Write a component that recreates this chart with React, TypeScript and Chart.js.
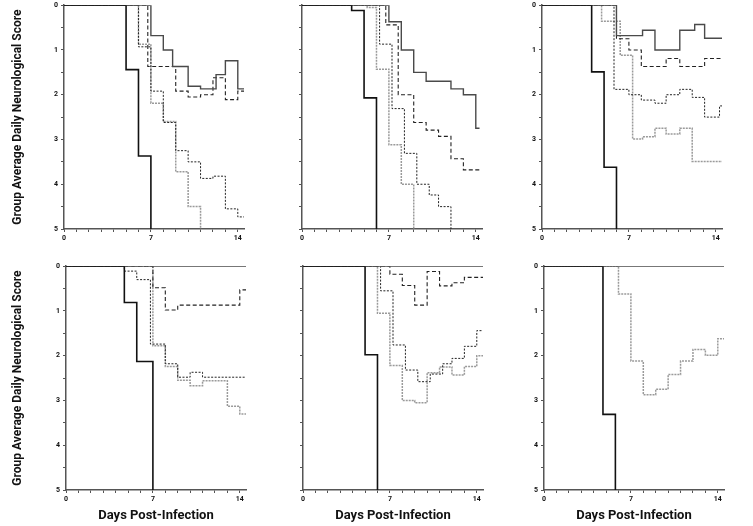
import React, { useEffect, useRef } from "react";
import { Chart, registerables } from "chart.js";
Chart.register(...registerables);

type Pt = [number, number];

// ---- axis ticks / labels ----
const dayTicks = [0, 1, 2, 3, 4, 5, 6, 7, 8, 9, 10, 11, 12, 13, 14];
const dayLabels = [0, 7, 14];
const scoreTicks = [0, 0.5, 1, 1.5, 2, 2.5, 3, 3.5, 4, 4.5, 5];
const scoreLabels = [0, 1, 2, 3, 4, 5];
const yTitleText = "Group Average Daily Neurological Score";
const xTitleText = "Days Post-Infection";

// ---- Panel r1c1 ----
const r1c1Black: Pt[] = [[0, 0], [5, 1.44], [6, 3.37], [7, 5]];
const r1c1Solid: Pt[] = [[0, 0], [7, 0.68], [8, 1.0], [8.75, 1.37], [10, 1.81], [11, 1.87], [12.25, 1.55], [13, 1.24], [14, 1.87], [14.5, 1.87]];
const r1c1Dashed: Pt[] = [[0, 0], [6.75, 1.37], [9, 1.92], [10, 2.05], [11, 2.0], [12, 1.62], [13, 2.11], [14, 1.92], [14.5, 1.92]];
const r1c1Dotted: Pt[] = [[0, 0], [6, 0.93], [7, 1.92], [8, 2.62], [9, 3.25], [10, 3.5], [11, 3.87], [12, 3.82], [13, 4.55], [14, 4.73], [14.5, 4.73]];
const r1c1Gray: Pt[] = [[0, 0], [6, 0.87], [7, 2.19], [8, 2.6], [9, 3.72], [10, 4.5], [11, 5]];

// ---- Panel r1c2 ----
const r1c2Black: Pt[] = [[0, 0], [4, 0.12], [5, 2.07], [6, 5]];
const r1c2Solid: Pt[] = [[0, 0], [7, 0.37], [8, 1.0], [9, 1.5], [10, 1.7], [12, 1.87], [13, 2.0], [14, 2.75], [14.3, 2.75]];
const r1c2Dashed: Pt[] = [[0, 0], [6.75, 0.44], [7.75, 2.0], [9, 2.62], [10, 2.79], [11, 2.93], [12, 3.43], [13, 3.68], [14.3, 3.68]];
const r1c2Dotted: Pt[] = [[0, 0], [6.25, 0.87], [7.25, 2.31], [8.25, 3.31], [9.25, 4.0], [10.25, 4.24], [11, 4.5], [12, 5]];
const r1c2Gray: Pt[] = [[0, 0], [5.25, 0.05], [6, 1.43], [7, 3.12], [8, 4.0], [9, 5]];

// ---- Panel r1c3 ----
const r1c3Black: Pt[] = [[0, 0], [4, 1.49], [5, 3.62], [6, 5]];
const r1c3Solid: Pt[] = [[0, 0], [6, 0.68], [8.1, 0.56], [9.1, 1.0], [11.1, 0.56], [12.3, 0.43], [13.1, 0.74], [14.5, 0.74]];
const r1c3Dashed: Pt[] = [[0, 0], [6, 0.75], [7, 1.0], [8, 1.37], [10, 1.19], [11.1, 1.37], [13.1, 1.19], [14.5, 1.19]];
const r1c3Dotted: Pt[] = [[0, 0], [5.8, 1.88], [7, 2.0], [8, 2.12], [9.1, 2.19], [10, 2.0], [11.1, 1.88], [12.1, 2.06], [13.1, 2.5], [14.3, 2.25], [14.5, 2.25]];
const r1c3Gray: Pt[] = [[0, 0], [4.8, 0.36], [6.3, 1.12], [7.3, 2.99], [8.1, 2.94], [9.1, 2.75], [10, 2.88], [11.1, 2.75], [12.1, 3.49], [14.5, 3.49]];

// ---- Panel r2c1 ----
const r2c1Black: Pt[] = [[0, 0], [4.7, 0.81], [5.7, 2.13], [7, 5]];
const r2c1Solid: Pt[] = [[0, 0], [14.5, 0]];
const r2c1Dashed: Pt[] = [[0, 0], [7, 0.48], [8, 0.98], [9, 0.87], [14, 0.53], [14.5, 0.53]];
const r2c1Dotted: Pt[] = [[0, 0], [4.7, 0.11], [5.7, 0.3], [6.8, 1.74], [8, 2.18], [9, 2.48], [10, 2.37], [11, 2.48], [14.5, 2.48]];
const r2c1Gray: Pt[] = [[0, 0], [7, 1.78], [8, 2.24], [9, 2.55], [10, 2.67], [11, 2.56], [13, 3.13], [14, 3.3], [14.5, 3.3]];

// ---- Panel r2c2 ----
const r2c2Black: Pt[] = [[0, 0], [5, 1.98], [6, 5]];
const r2c2Solid: Pt[] = [[0, 0], [14.5, 0]];
const r2c2Dashed: Pt[] = [[0, 0], [7, 0.18], [8, 0.43], [9, 0.87], [10, 0.12], [11, 0.44], [12, 0.37], [13, 0.25], [14.5, 0.25]];
const r2c2Dotted: Pt[] = [[0, 0], [6.25, 0.55], [7.25, 1.76], [8.25, 2.32], [9.25, 2.58], [10.25, 2.41], [11.25, 2.18], [12, 2.06], [13, 1.79], [14, 1.44], [14.5, 1.44]];
const r2c2Gray: Pt[] = [[0, 0], [6, 1.05], [7, 2.22], [8, 3.0], [9, 3.05], [10, 2.38], [11, 2.25], [12, 2.43], [13, 2.24], [14, 2.0], [14.5, 2.0]];

// ---- Panel r2c3 ----
const r2c3Black: Pt[] = [[0, 0], [4.75, 3.31], [5.75, 5]];
const r2c3Solid: Pt[] = [[0, 0], [14.5, 0]];
const r2c3Gray: Pt[] = [[0, 0], [6, 0.62], [7, 2.12], [8, 2.87], [9, 2.75], [10, 2.42], [11, 2.12], [12, 1.86], [13, 1.99], [14, 1.62], [14.5, 1.62]];

// ---- styles ----
const STYLES: Record<string, any> = {
  black: { borderColor: "#111111", borderWidth: 1.6, borderDash: [] },
  solid: { borderColor: "#4a4a4a", borderWidth: 1.4, borderDash: [] },
  dashed: { borderColor: "#222222", borderWidth: 1.1, borderDash: [4, 2.5] },
  dotted: { borderColor: "#222222", borderWidth: 1, borderDash: [2, 1.5] },
  gray: { borderColor: "#9a9a9a", borderWidth: 1.5, borderDash: [2, 1] },
};

const FONT = "Roboto, 'Noto Sans', sans-serif";
const Y_W = 60;
const PAD_T = 6;
const PAD_R = 6;
const PLOT_H = 225;
const PLOT_W = 180;

type Series = { style: string; data: Pt[] };
type PanelCfg = {
  left: number;
  top: number;
  yLabels: boolean;
  yTitle: boolean;
  yTitlePad: number;
  xTitle: boolean;
  series: Series[];
};

const PANELS: PanelCfg[] = [
  { left: 64, top: 4, yLabels: true, yTitle: true, yTitlePad: 7, xTitle: false,
    series: [{ style: "black", data: r1c1Black }, { style: "solid", data: r1c1Solid }, { style: "dashed", data: r1c1Dashed }, { style: "dotted", data: r1c1Dotted }, { style: "gray", data: r1c1Gray }] },
  { left: 302, top: 4, yLabels: false, yTitle: false, yTitlePad: 0, xTitle: false,
    series: [{ style: "black", data: r1c2Black }, { style: "solid", data: r1c2Solid }, { style: "dashed", data: r1c2Dashed }, { style: "dotted", data: r1c2Dotted }, { style: "gray", data: r1c2Gray }] },
  { left: 542, top: 4, yLabels: true, yTitle: false, yTitlePad: 0, xTitle: false,
    series: [{ style: "black", data: r1c3Black }, { style: "solid", data: r1c3Solid }, { style: "dashed", data: r1c3Dashed }, { style: "dotted", data: r1c3Dotted }, { style: "gray", data: r1c3Gray }] },
  { left: 66, top: 265, yLabels: true, yTitle: true, yTitlePad: 5, xTitle: true,
    series: [{ style: "black", data: r2c1Black }, { style: "solid", data: r2c1Solid }, { style: "dashed", data: r2c1Dashed }, { style: "dotted", data: r2c1Dotted }, { style: "gray", data: r2c1Gray }] },
  { left: 303, top: 265, yLabels: false, yTitle: false, yTitlePad: 0, xTitle: true,
    series: [{ style: "black", data: r2c2Black }, { style: "solid", data: r2c2Solid }, { style: "dashed", data: r2c2Dashed }, { style: "dotted", data: r2c2Dotted }, { style: "gray", data: r2c2Gray }] },
  { left: 544, top: 265, yLabels: true, yTitle: false, yTitlePad: 0, xTitle: true,
    series: [{ style: "black", data: r2c3Black }, { style: "solid", data: r2c3Solid }, { style: "gray", data: r2c3Gray }] },
];

function Panel({ cfg }: { cfg: PanelCfg }) {
  const ref = useRef<HTMLCanvasElement>(null);
  const xH = cfg.xTitle ? 34 : 20;
  const w = Y_W + PLOT_W + PAD_R;
  const h = PAD_T + PLOT_H + xH;
  useEffect(() => {
    const tickFont = { family: FONT, size: 7, weight: "bold" as const };
    const titleFont = { family: FONT, size: 12, weight: "bold" as const };
    const chart = new Chart(ref.current!, {
      type: "line",
      data: {
        datasets: cfg.series.map((s) => ({
          data: s.data.map(([x, y]) => ({ x, y })),
          stepped: true,
          pointRadius: 0,
          fill: false,
          tension: 0,
          ...STYLES[s.style],
        })),
      },
      options: {
        animation: false,
        responsive: false,
        maintainAspectRatio: false,
        events: [],
        layout: { padding: { top: PAD_T, right: PAD_R, left: 0, bottom: 0 } },
        plugins: { legend: { display: false }, tooltip: { enabled: false } },
        scales: {
          x: {
            type: "linear",
            min: 0,
            max: 14.5,
            afterBuildTicks: (s: any) => {
              s.ticks = dayTicks.map((v) => ({ value: v }));
            },
            afterFit: (s: any) => {
              s.height = xH;
            },
            ticks: {
              autoSkip: false,
              maxRotation: 0,
              padding: 2,
              font: tickFont,
              color: "#111",
              callback: (v: any) => (dayLabels.includes(Number(v)) ? String(v) : ""),
            },
            grid: { drawOnChartArea: false, drawTicks: true, tickLength: 3, color: "#555", lineWidth: 1 },
            border: { display: true, color: "#555", width: 1.5 },
            title: {
              display: cfg.xTitle,
              text: xTitleText,
              font: { family: FONT, size: 13, weight: "bold" },
              color: "#111",
              padding: { top: 0, bottom: 0 },
            },
          },
          y: {
            type: "linear",
            reverse: true,
            min: 0,
            max: 5,
            afterBuildTicks: (s: any) => {
              s.ticks = scoreTicks.map((v) => ({ value: v }));
            },
            afterFit: (s: any) => {
              s.width = Y_W;
            },
            ticks: {
              autoSkip: false,
              padding: 3,
              font: tickFont,
              color: "#111",
              callback: (v: any) => (cfg.yLabels && scoreLabels.includes(Number(v)) ? String(v) : ""),
            },
            grid: { drawOnChartArea: false, drawTicks: true, tickLength: 3, color: "#555", lineWidth: 1 },
            border: { display: true, color: "#555", width: 1.5 },
            title: {
              display: cfg.yTitle,
              text: yTitleText,
              font: titleFont,
              color: "#111",
              padding: { top: cfg.yTitlePad, bottom: 0 },
            },
          },
        },
      } as any,
    });
    return () => chart.destroy();
  }, []);
  return (
    <canvas
      ref={ref}
      width={w}
      height={h}
      style={{ position: "absolute", left: cfg.left - Y_W, top: cfg.top - PAD_T, width: w, height: h }}
    />
  );
}

export default function App() {
  return (
    <div style={{ position: "absolute", left: 0, top: 0, width: 753, height: 526, background: "#fff" }}>
      {PANELS.map((p, i) => (
        <Panel key={i} cfg={p} />
      ))}
    </div>
  );
}
